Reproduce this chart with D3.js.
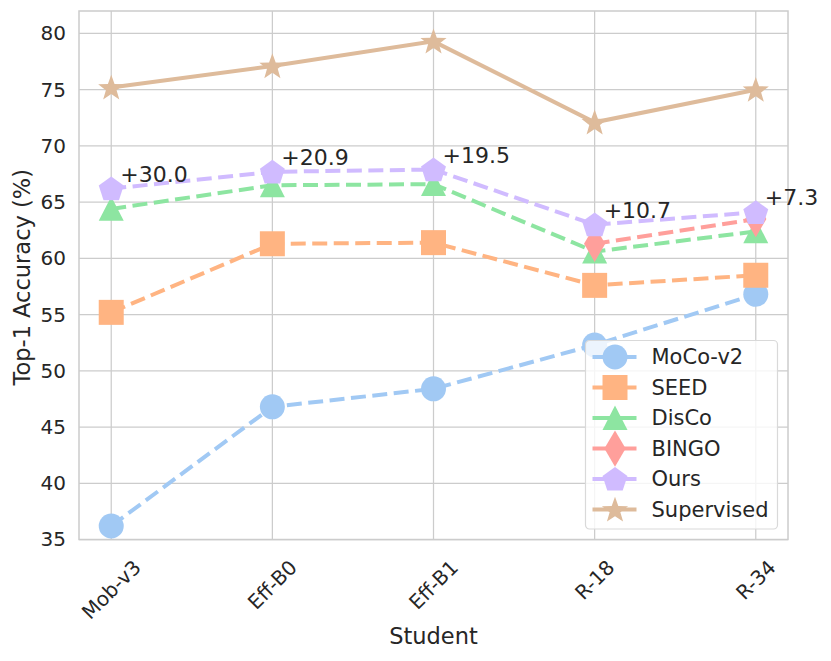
<!DOCTYPE html>
<html>
<head>
<meta charset="utf-8">
<script src="https://cdn.jsdelivr.net/npm/d3@7"></script>
<style>
  body { margin: 0; background: #fff; }
  text { font-family: "DejaVu Sans", sans-serif; fill: #262626; }
</style>
</head>
<body>
<div id="chart"></div>
<script>
// Data
var students = ["Mob-v3", "Eff-B0", "Eff-B1", "R-18", "R-34"];
var mocoV2 = [36.2, 46.8, 48.4, 52.3, 56.8];
var seed = [55.2, 61.3, 61.4, 57.6, 58.5];
var disco = [64.4, 66.5, 66.6, 60.6, 62.4];
var bingo = [null, null, null, 61.3, 63.5];
var ours = [66.2, 67.7, 67.9, 63.0, 64.1];
var supervised = [75.2, 77.1, 79.3, 72.1, 75.0];
var gains = ["+30.0", "+20.9", "+19.5", "+10.7", "+7.3"];
var yTicks = [35, 40, 45, 50, 55, 60, 65, 70, 75, 80];

var series = [
  {name: "MoCo-v2", values: mocoV2, color: "#a1c9f4", marker: "circle", dash: true},
  {name: "SEED", values: seed, color: "#ffb482", marker: "square", dash: true},
  {name: "DisCo", values: disco, color: "#8de5a1", marker: "triangle", dash: true},
  {name: "BINGO", values: bingo, color: "#ff9f9b", marker: "thin_diamond", dash: true},
  {name: "Ours", values: ours, color: "#d0bbff", marker: "pentagon", dash: true},
  {name: "Supervised", values: supervised, color: "#debb9b", marker: "star", dash: false}
];

var svgWidth = 831;
var svgHeight = 661;
var margin = {top: 11, right: 43, bottom: 121.5, left: 79};
var width = svgWidth - margin.left - margin.right;
var height = svgHeight - margin.top - margin.bottom;

var svg = d3.select("#chart").append("svg")
  .attr("width", svgWidth)
  .attr("height", svgHeight);

var g = svg.append("g")
  .attr("transform", `translate(${margin.left}, ${margin.top})`);

var x = d3.scaleLinear().domain([-0.2, students.length - 0.8]).range([0, width]);
var y = d3.scaleLinear().domain([35, 82]).range([height, 0]);

// grid
g.append("g").selectAll("line").data(yTicks).enter().append("line")
  .attr("x1", 0).attr("x2", width)
  .attr("y1", d => y(d)).attr("y2", d => y(d))
  .attr("stroke", "#cccccc").attr("stroke-width", 1.25);
g.append("g").selectAll("line").data(students).enter().append("line")
  .attr("x1", (d, i) => x(i)).attr("x2", (d, i) => x(i))
  .attr("y1", 0).attr("y2", height)
  .attr("stroke", "#cccccc").attr("stroke-width", 1.25);

// frame
g.append("rect")
  .attr("width", width).attr("height", height)
  .attr("fill", "none").attr("stroke", "#cccccc").attr("stroke-width", 1.5);

// y axis tick labels
var leftAxis = d3.axisLeft(y).tickValues(yTicks).tickSize(0).tickPadding(13);
var yAxisG = g.append("g").call(leftAxis);
yAxisG.select(".domain").remove();
yAxisG.selectAll("text")
  .style("font-family", "DejaVu Sans")
  .style("font-size", "20px")
  .attr("fill", "#262626");

// x tick labels, rotated 45 and centred on the tick
var xl = g.append("g").selectAll("text").data(students).enter().append("text")
  .style("font-size", "20px")
  .attr("text-anchor", "middle")
  .attr("dominant-baseline", "central")
  .text(d => d);
xl.attr("transform", function(d, i) {
  var w = this.getComputedTextLength();
  var h = 20 * 0.95;
  var bh = (w + h) / Math.SQRT2;
  return `translate(${x(i)}, ${height + 17.5 + bh / 2}) rotate(-45)`;
});

// axis titles
g.append("text")
  .attr("x", width / 2)
  .attr("y", height + 104.5)
  .attr("text-anchor", "middle")
  .style("font-size", "22.5px")
  .text("Student");
g.append("text")
  .attr("transform", `translate(${-49}, ${height / 2 + 2}) rotate(-90)`)
  .attr("text-anchor", "middle")
  .style("font-size", "22.5px")
  .text("Top-1 Accuracy (%)");

// marker shapes
function markerPath(type, s) {
  var r = s / 2;
  var pts = [];
  if (type === "circle") {
    return d3.symbol(d3.symbolCircle, Math.PI * r * r)();
  }
  if (type === "square") {
    return `M${-r},${-r}H${r}V${r}H${-r}Z`;
  }
  if (type === "triangle") {
    return `M0,${-r}L${r},${r * 0.95}L${-r},${r * 0.95}Z`;
  }
  if (type === "thin_diamond") {
    return `M0,${-r * 1.45}L${r * 0.85},0L0,${r * 1.45}L${-r * 0.85},0Z`;
  }
  if (type === "pentagon") {
    for (var k = 0; k < 5; k++) {
      var a = -Math.PI / 2 + k * 2 * Math.PI / 5;
      pts.push([r * 1.05 * Math.cos(a), r * 1.05 * Math.sin(a) + 1]);
    }
    return "M" + pts.join("L") + "Z";
  }
  if (type === "star") {
    for (var k = 0; k < 10; k++) {
      var a = -Math.PI / 2 + k * Math.PI / 5;
      var rr = k % 2 === 0 ? r * 1.1 : r * 0.45;
      pts.push([rr * Math.cos(a), rr * Math.sin(a) + 1]);
    }
    return "M" + pts.join("L") + "Z";
  }
}

series.forEach(function(s) {
  var pts = s.values.map((v, i) => ({v: v, i: i})).filter(p => p.v != null);
  g.append("path")
    .datum(pts)
    .attr("fill", "none")
    .attr("stroke", s.color)
    .attr("stroke-width", 4)
    .attr("stroke-dasharray", s.dash ? "15,6.5" : null)
    .attr("d", d3.line().x(p => x(p.i)).y(p => y(p.v)));
  g.append("g").selectAll("path").data(pts).enter().append("path")
    .attr("transform", p => `translate(${x(p.i)}, ${y(p.v)})`)
    .attr("d", markerPath(s.marker, 25))
    .attr("fill", s.color);
});

// gain annotations next to "Ours"
g.append("g").selectAll("text").data(gains).enter().append("text")
  .attr("x", (d, i) => x(i) + 9)
  .attr("y", (d, i) => y(ours[i]) - 7)
  .style("font-size", "22px")
  .text(d => d);

// legend
var legend = g.append("g").attr("transform", `translate(${585.5 - margin.left}, ${340.5 - margin.top})`);
legend.append("rect")
  .attr("width", 192).attr("height", 188.5)
  .attr("rx", 4).attr("ry", 4)
  .attr("fill", "#ffffff").attr("fill-opacity", 0.8)
  .attr("stroke", "#d9d9d9").attr("stroke-width", 1.2);
series.forEach(function(s, k) {
  var ly = 16.5 + k * 30.5;
  var row = legend.append("g").attr("transform", `translate(0, ${ly})`);
  row.append("line")
    .attr("x1", 7).attr("x2", 51)
    .attr("stroke", s.color).attr("stroke-width", 4);
  row.append("path")
    .attr("transform", "translate(29.5, 0)")
    .attr("d", markerPath(s.marker, 25))
    .attr("fill", s.color);
  row.append("text")
    .attr("x", 66)
    .attr("dy", "0.35em")
    .style("font-size", "21px")
    .text(s.name);
});
</script>
</body>
</html>
